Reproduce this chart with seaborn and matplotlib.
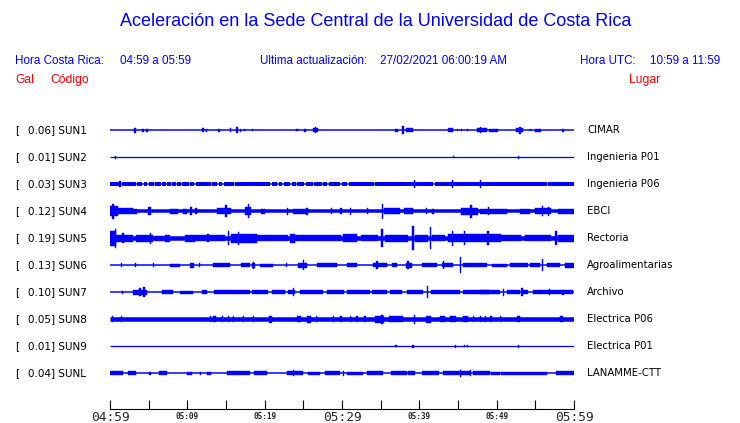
import matplotlib
matplotlib.use("Agg")
import matplotlib.pyplot as plt
import matplotlib.transforms as mtransforms
import seaborn as sns

# ── DATA (times in minutes after 04:59, heights in px of trace width) ────────
CODES  = ["SUN1", "SUN2", "SUN3", "SUN4", "SUN5", "SUN6", "SUN7", "SUN8", "SUN9", "SUNL"]
PGA    = ["0.06", "0.01", "0.03", "0.12", "0.19", "0.13", "0.10", "0.05", "0.01", "0.04"]
PLACES = ["CIMAR", "Ingenieria P01", "Ingenieria P06", "EBCI", "Rectoria",
          "Agroalimentarias", "Archivo", "Electrica P06", "Electrica P01", "LANAMME-CTT"]
BASE_PX = [1.5, 1.3, 1.5, 3.5, 4.5, 1.5, 1.5, 4.5, 1.3, 1.5]

TICKS = list(range(0, 61, 5))
TICK_LABELS = ["04:59", "", "05:09", "", "05:19", "", "05:29", "", "05:39", "", "05:49", "", "05:59"]

# SUN3 has a thick band broken by short gaps
SUN3_BAND_PX = 4.0
SUN3_GAPS = [1.47, 3.41, 4.27, 4.91, 5.78, 6.64, 7.28, 7.93, 8.58, 9.22, 10.3, 11.0,
             13.1, 14.0, 14.6, 16.1, 20.8, 21.7, 22.4, 23.4, 24.1, 25.2, 26.3, 27.5,
             28.2, 29.9, 30.8, 34.2, 41.9, 56.6]

# bursts: (start, end, height)
SUN1 = [(3.1, 3.4, 5), (4.2, 4.35, 3), (4.7, 4.85, 3), (11.9, 12.1, 4), (12.35, 12.5, 3),
        (14.0, 14.2, 3), (15.5, 15.7, 4), (16.3, 16.55, 6), (16.75, 16.9, 3), (17.3, 17.4, 2),
        (18.3, 18.45, 2), (24.1, 24.25, 2), (25.1, 25.3, 3), (26.2, 26.9, 4), (26.55, 26.7, 6),
        (36.8, 37.3, 3), (37.8, 38.0, 8), (38.3, 39.2, 3.5), (43.7, 44.3, 3.5), (44.9, 45.05, 2),
        (45.4, 45.55, 2), (46.1, 46.25, 2), (47.4, 48.8, 3.5), (47.85, 48.0, 6), (49.0, 50.2, 3),
        (52.5, 53.4, 4), (52.9, 53.1, 7), (54.25, 54.4, 2), (55.0, 55.7, 3), (58.5, 58.7, 3)]
SUN2 = [(0.6, 0.75, 3), (44.3, 44.45, 2.5), (52.8, 52.95, 3)]
SUN3 = [(1.2, 1.4, 6), (39.35, 39.5, 8), (44.2, 44.35, 8), (47.8, 47.95, 8)]
SUN4 = [(0.0, 1.0, 10), (0.3, 0.5, 15), (1.0, 3.0, 6), (3.0, 3.5, 5), (4.85, 5.3, 8),
        (7.8, 8.8, 5), (9.5, 10.0, 5), (10.4, 10.55, 8), (11.05, 11.2, 6), (13.8, 15.6, 6.5),
        (14.9, 15.1, 12), (17.4, 18.2, 8), (17.8, 17.95, 14), (19.5, 20.0, 5), (22.9, 23.05, 7),
        (23.6, 25.5, 5), (25.4, 25.55, 7), (28.6, 28.75, 6), (29.8, 29.95, 6), (31.0, 31.15, 7),
        (33.2, 33.35, 6), (35.2, 35.35, 15), (35.4, 37.5, 5.5), (38.0, 39.2, 6.5), (40.9, 41.05, 6),
        (41.7, 41.85, 5), (45.4, 47.6, 7), (46.6, 46.75, 13), (47.8, 51.3, 5), (48.9, 49.05, 8),
        (53.0, 54.3, 5), (55.0, 57.0, 6), (55.8, 55.95, 10), (56.6, 56.75, 9), (57.9, 60.0, 5)]
SUN5 = [(0.0, 0.8, 15), (0.6, 0.75, 19), (0.8, 3.0, 7), (1.6, 1.75, 10), (3.3, 5.6, 7),
        (5.2, 5.35, 11), (5.8, 7.1, 5), (7.1, 7.8, 7), (9.7, 11.0, 7), (11.0, 14.9, 5.5),
        (12.6, 12.75, 8), (15.2, 15.4, 14), (15.6, 19.0, 9), (16.5, 16.65, 13), (19.0, 23.0, 5.5),
        (23.3, 23.9, 9), (23.9, 29.9, 5.5), (30.1, 32.0, 8), (32.4, 34.6, 5.5), (35.1, 35.25, 18),
        (35.5, 38.5, 7), (39.1, 39.25, 24), (39.4, 41.1, 7), (41.4, 41.55, 22), (41.6, 43.3, 5.5),
        (43.7, 45.4, 8), (44.2, 44.35, 15), (45.4, 50.6, 8), (45.8, 45.95, 14), (48.8, 48.95, 14),
        (50.6, 53.1, 6), (53.6, 57.0, 6), (57.6, 57.75, 14), (57.9, 60.0, 7)]
SUN6 = [(1.4, 1.6, 4), (3.2, 3.35, 4), (5.6, 5.75, 4), (7.8, 9.1, 3), (10.4, 10.8, 5),
        (11.5, 11.65, 4), (13.3, 15.5, 3.5), (17.0, 18.1, 3.5), (18.3, 18.75, 5), (18.45, 18.6, 7),
        (19.4, 21.1, 3), (22.8, 22.95, 4), (24.3, 25.5, 5), (24.9, 25.05, 10), (26.8, 29.3, 3.5),
        (30.6, 31.9, 3.5), (34.0, 35.8, 4), (34.45, 34.6, 8), (36.5, 37.1, 4), (38.3, 39.1, 5),
        (38.45, 38.6, 8), (40.4, 42.3, 3.5), (42.9, 44.3, 4), (43.0, 43.15, 8), (45.2, 45.35, 16),
        (45.6, 48.8, 4), (49.4, 51.3, 3), (51.7, 54.1, 3.5), (54.3, 55.6, 3.5), (55.8, 55.95, 12),
        (56.5, 58.2, 3.5), (58.8, 60.0, 5)]
SUN7 = [(1.5, 1.65, 3), (3.0, 4.8, 5), (4.3, 4.5, 10), (3.8, 4.0, 8), (6.7, 8.2, 3.5),
        (9.0, 10.7, 3), (11.9, 12.5, 4), (13.4, 18.1, 4), (18.3, 20.4, 3.5), (21.0, 22.6, 3.5),
        (23.0, 23.9, 4), (23.7, 23.85, 8), (24.6, 27.5, 3.5), (28.1, 30.2, 3.5), (30.6, 33.6, 3.5),
        (33.9, 35.8, 3.5), (36.2, 37.7, 4), (38.4, 40.5, 3.5), (40.95, 41.1, 12), (41.5, 45.3, 4),
        (45.6, 49.0, 4.5), (47.9, 50.4, 3.5), (50.8, 50.95, 7), (51.3, 53.0, 3.5), (53.2, 53.35, 8),
        (53.3, 54.1, 4.5), (54.7, 59.9, 4), (56.8, 56.95, 6), (58.5, 58.65, 5)]
SUN8 = [(0.3, 0.45, 6), (1.4, 1.55, 6), (12.9, 13.05, 6), (13.3, 13.7, 6), (14.5, 14.65, 6),
        (15.2, 15.35, 6), (15.9, 16.05, 6), (17.2, 17.35, 6), (18.5, 18.65, 6), (20.6, 20.9, 7),
        (24.2, 24.7, 6), (25.5, 26.0, 7), (26.6, 26.8, 6), (28.8, 28.95, 6), (29.8, 29.95, 6),
        (31.0, 31.15, 6), (31.8, 32.1, 6), (32.9, 33.05, 6), (34.3, 35.4, 7), (35.1, 35.3, 9),
        (36.1, 37.9, 6), (39.35, 39.5, 9), (40.8, 41.5, 7), (42.7, 43.3, 6), (44.0, 44.7, 6),
        (45.6, 46.3, 6), (46.9, 47.05, 6), (47.8, 47.95, 6), (48.5, 48.65, 6), (49.2, 49.35, 6),
        (50.4, 50.55, 6), (52.6, 53.0, 6), (58.2, 58.6, 6)]
SUN9 = [(36.9, 37.05, 2), (39.1, 39.25, 3), (44.6, 44.75, 3), (45.75, 45.9, 2),
        (46.2, 46.35, 2), (52.8, 52.95, 3)]
SUNL = [(0.0, 1.7, 3.5), (2.3, 3.3, 3.5), (5.1, 5.25, 3), (6.4, 7.4, 3.5), (9.9, 10.6, 3),
        (11.6, 11.75, 3), (12.5, 13.0, 3), (15.1, 18.1, 3.5), (18.6, 20.3, 3.5), (22.9, 25.0, 3.5),
        (23.6, 23.75, 6), (25.6, 27.2, 3), (27.8, 29.7, 3.5), (30.1, 30.25, 5), (30.6, 32.7, 3),
        (33.2, 35.3, 3.5), (36.4, 38.4, 3.5), (38.5, 39.4, 3.5), (40.4, 42.6, 3.5), (43.0, 46.6, 3.5),
        (45.2, 45.35, 7), (46.5, 46.65, 6), (46.9, 49.1, 3.5), (49.3, 50.4, 3), (50.5, 56.5, 3),
        (57.7, 60.0, 3.5)]
BURSTS = [SUN1, SUN2, SUN3, SUN4, SUN5, SUN6, SUN7, SUN8, SUN9, SUNL]

BLUE = "#0000FF"
RED = "#FF0000"
ROW_PX = 27.0          # pixels between traces (1 data unit)
PX2PT = 72.0 / 100.0

# ── FIGURE ───────────────────────────────────────────────────────────────────
sns.set_theme(style="white")
plt.rcParams["font.family"] = ["DejaVu Sans"]

W, H = 740, 423
fig = plt.figure(figsize=(W / 100, H / 100), dpi=100)
fig.patch.set_facecolor("white")
ax = fig.add_axes([110 / W, 1 - 409 / H, 464 / W, 295 / H])
ax.set_facecolor("white")

for i, code in enumerate(CODES):
    ax.hlines(i, 0, 60, color=BLUE, lw=BASE_PX[i] * PX2PT)
    if code == "SUN3":
        edges = [0.0]
        for g in SUN3_GAPS:
            edges += [g - 0.1, g + 0.1]
        edges.append(60.0)
        ax.hlines([i] * (len(edges) // 2), edges[0::2], edges[1::2],
                  color=BLUE, lw=SUN3_BAND_PX * PX2PT)
    ev = BURSTS[i]
    starts = [e[0] for e in ev]
    widths = [e[1] - e[0] for e in ev]
    hts = [e[2] / ROW_PX for e in ev]
    bots = [i - h / 2 for h in hts]
    ax.bar(starts, hts, width=widths, bottom=bots, align="edge",
           color=BLUE, edgecolor=BLUE, linewidth=0.3)

ax.set_xlim(0, 60)
ax.set_ylim(10.33, -0.6)
ax.set_yticks([])
sns.despine(ax=ax, left=True, top=True, right=True)
ax.spines["bottom"].set_color("black")
ax.spines["bottom"].set_linewidth(0.8)
ax.set_xticks(TICKS)
ax.set_xticklabels(TICK_LABELS)
ax.tick_params(axis="x", direction="in", length=6.5, width=0.8, color="black",
               pad=1.5, bottom=True)
for lab in ax.get_xticklabels():
    lab.set_fontfamily("DejaVu Sans Mono")
    if lab.get_text() in ("04:59", "05:29", "05:59"):
        lab.set_fontsize(9.3)
    else:
        lab.set_fontsize(5.6)
        lab.set_fontweight("bold")
        lab.set_y(lab.get_position()[1] - 0.003)

# row labels
trans = mtransforms.blended_transform_factory(fig.transFigure, ax.transData)
for i in range(len(CODES)):
    ax.text(15 / W, i, "[", transform=trans, ha="left", va="center",
            fontsize=7.5, color="black", clip_on=False)
    ax.text(28 / W, i, f"{PGA[i]}] {CODES[i]}", transform=trans, ha="left",
            va="center", fontsize=7.5, color="black", clip_on=False)
    ax.text(587 / W, i, PLACES[i], transform=trans, ha="left", va="center",
            fontsize=7.3, color="black", clip_on=False)

# header
sans = ["Liberation Sans", "DejaVu Sans"]
def ftext(x, y, s, color, size, ha="left"):
    fig.text(x / W, 1 - y / H, s, color=color, fontsize=size, ha=ha,
             va="center", family=sans)

ftext(376, 22, "Aceleración en la Sede Central de la Universidad de Costa Rica",
      BLUE, 13, ha="center")
ftext(15, 61, "Hora Costa Rica:", BLUE, 8.4)
ftext(120, 61, "04:59 a 05:59", BLUE, 8.4)
ftext(260, 61, "Ultima actualización:", BLUE, 8.4)
ftext(380, 61, "27/02/2021 06:00:19 AM", BLUE, 8.4)
ftext(580, 61, "Hora UTC:", BLUE, 8.4)
ftext(650, 61, "10:59 a 11:59", BLUE, 8.4)
ftext(15, 80, "Gal", RED, 8.7)
ftext(50, 80, "Código", RED, 8.7)
ftext(629, 80, "Lugar", RED, 8.7)

fig.savefig("out.png", dpi=100, facecolor="white")
